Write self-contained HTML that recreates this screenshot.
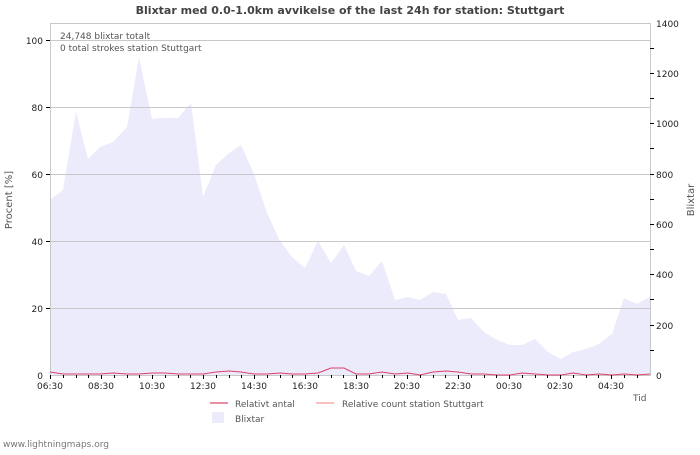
<!DOCTYPE html>
<html><head><meta charset="utf-8"><style>
body{margin:0;background:#fff;}
svg text{font-family:"DejaVu Sans","Liberation Sans",sans-serif;}
</style></head><body>
<svg width="700" height="450" xmlns="http://www.w3.org/2000/svg">
<rect width="700" height="450" fill="#fff"/>
<text x="350" y="14" text-anchor="middle" font-size="11" font-weight="bold" fill="#444">Blixtar med 0.0-1.0km avvikelse of the last 24h for station: Stuttgart</text>
<polygon fill="#ebebfc" points="50,375 50,200 63,190 76,112 88,159 100,147 113,142 127,127 139,57 152,119 165,118 178,118 191,103 203,197 216,165 229,153 241,145 254,174 267,213 280,241 292,257 305,268 318,241 331,263 344,245 356,271 369,276 382,261 395,300 408,297 420,300 433,292 446,294 458,320 471,318 484,332 497,340 510,345 522,345 535,339 548,352 561,359 573,352 586,349 599,344 612,334 624,298 637,304 650,297 650,375"/>
<g stroke="#c8c8c8" stroke-width="1">
<line x1="50" y1="40.5" x2="650" y2="40.5"/><line x1="50" y1="107.5" x2="650" y2="107.5"/><line x1="50" y1="174.5" x2="650" y2="174.5"/><line x1="50" y1="241.5" x2="650" y2="241.5"/><line x1="50" y1="308.5" x2="650" y2="308.5"/>
<rect x="50.5" y="23.5" width="600" height="352" fill="none"/>
</g>
<polyline fill="none" stroke="#e0406a" stroke-width="1" points="50,372 63,374 76,374 88,374 100,374 113,373 127,374 139,374 152,373 165,373 178,374 191,374 203,374 216,372 229,371 241,372 254,374 267,374 280,373 292,374 305,374 318,373 331,368 344,368 356,374 369,374 382,372 395,374 408,373 420,375 433,372 446,371 458,372 471,374 484,374 497,375 510,375 522,373 535,374 548,375 561,375 573,373 586,375 599,374 612,375 624,374 637,375 650,374"/>
<g stroke="#000" stroke-width="1">
<line x1="50.5" y1="375" x2="50.5" y2="379"/><line x1="101.5" y1="375" x2="101.5" y2="379"/><line x1="152.5" y1="375" x2="152.5" y2="379"/><line x1="203.5" y1="375" x2="203.5" y2="379"/><line x1="254.5" y1="375" x2="254.5" y2="379"/><line x1="305.5" y1="375" x2="305.5" y2="379"/><line x1="356.5" y1="375" x2="356.5" y2="379"/><line x1="407.5" y1="375" x2="407.5" y2="379"/><line x1="458.5" y1="375" x2="458.5" y2="379"/><line x1="509.5" y1="375" x2="509.5" y2="379"/><line x1="560.5" y1="375" x2="560.5" y2="379"/><line x1="611.5" y1="375" x2="611.5" y2="379"/>
<line x1="46" y1="40.5" x2="50" y2="40.5"/><line x1="46" y1="107.5" x2="50" y2="107.5"/><line x1="46" y1="174.5" x2="50" y2="174.5"/><line x1="46" y1="241.5" x2="50" y2="241.5"/><line x1="46" y1="308.5" x2="50" y2="308.5"/>
<line x1="650" y1="48.5" x2="654" y2="48.5"/><line x1="650" y1="73.5" x2="654" y2="73.5"/><line x1="650" y1="98.5" x2="654" y2="98.5"/><line x1="650" y1="123.5" x2="654" y2="123.5"/><line x1="650" y1="148.5" x2="654" y2="148.5"/><line x1="650" y1="174.5" x2="654" y2="174.5"/><line x1="650" y1="199.5" x2="654" y2="199.5"/><line x1="650" y1="224.5" x2="654" y2="224.5"/><line x1="650" y1="249.5" x2="654" y2="249.5"/><line x1="650" y1="274.5" x2="654" y2="274.5"/><line x1="650" y1="299.5" x2="654" y2="299.5"/><line x1="650" y1="325.5" x2="654" y2="325.5"/><line x1="650" y1="350.5" x2="654" y2="350.5"/>
</g>
<g stroke="#000" stroke-width="1">
<line x1="63.5" y1="375" x2="63.5" y2="378"/><line x1="76.5" y1="375" x2="76.5" y2="378"/><line x1="88.5" y1="375" x2="88.5" y2="378"/><line x1="114.5" y1="375" x2="114.5" y2="378"/><line x1="127.5" y1="375" x2="127.5" y2="378"/><line x1="139.5" y1="375" x2="139.5" y2="378"/><line x1="165.5" y1="375" x2="165.5" y2="378"/><line x1="178.5" y1="375" x2="178.5" y2="378"/><line x1="190.5" y1="375" x2="190.5" y2="378"/><line x1="216.5" y1="375" x2="216.5" y2="378"/><line x1="229.5" y1="375" x2="229.5" y2="378"/><line x1="241.5" y1="375" x2="241.5" y2="378"/><line x1="267.5" y1="375" x2="267.5" y2="378"/><line x1="280.5" y1="375" x2="280.5" y2="378"/><line x1="292.5" y1="375" x2="292.5" y2="378"/><line x1="318.5" y1="375" x2="318.5" y2="378"/><line x1="331.5" y1="375" x2="331.5" y2="378"/><line x1="343.5" y1="375" x2="343.5" y2="378"/><line x1="369.5" y1="375" x2="369.5" y2="378"/><line x1="382.5" y1="375" x2="382.5" y2="378"/><line x1="394.5" y1="375" x2="394.5" y2="378"/><line x1="420.5" y1="375" x2="420.5" y2="378"/><line x1="433.5" y1="375" x2="433.5" y2="378"/><line x1="445.5" y1="375" x2="445.5" y2="378"/><line x1="471.5" y1="375" x2="471.5" y2="378"/><line x1="484.5" y1="375" x2="484.5" y2="378"/><line x1="496.5" y1="375" x2="496.5" y2="378"/><line x1="522.5" y1="375" x2="522.5" y2="378"/><line x1="535.5" y1="375" x2="535.5" y2="378"/><line x1="547.5" y1="375" x2="547.5" y2="378"/><line x1="573.5" y1="375" x2="573.5" y2="378"/><line x1="586.5" y1="375" x2="586.5" y2="378"/><line x1="598.5" y1="375" x2="598.5" y2="378"/><line x1="624.5" y1="375" x2="624.5" y2="378"/><line x1="637.5" y1="375" x2="637.5" y2="378"/>
</g>
<g font-size="9" fill="#222">
<text x="43" y="379" text-anchor="end">0</text><text x="43" y="312" text-anchor="end">20</text><text x="43" y="245" text-anchor="end">40</text><text x="43" y="178" text-anchor="end">60</text><text x="43" y="111" text-anchor="end">80</text><text x="43" y="44" text-anchor="end">100</text>
<text x="656" y="379">0</text><text x="656" y="329">200</text><text x="656" y="278">400</text><text x="656" y="228">600</text><text x="656" y="178">800</text><text x="656" y="127">1000</text><text x="656" y="77">1200</text><text x="656" y="27">1400</text>
<text x="50" y="389" text-anchor="middle">06:30</text><text x="101" y="389" text-anchor="middle">08:30</text><text x="152" y="389" text-anchor="middle">10:30</text><text x="203" y="389" text-anchor="middle">12:30</text><text x="254" y="389" text-anchor="middle">14:30</text><text x="305" y="389" text-anchor="middle">16:30</text><text x="356" y="389" text-anchor="middle">18:30</text><text x="407" y="389" text-anchor="middle">20:30</text><text x="458" y="389" text-anchor="middle">22:30</text><text x="509" y="389" text-anchor="middle">00:30</text><text x="560" y="389" text-anchor="middle">02:30</text><text x="611" y="389" text-anchor="middle">04:30</text>
</g>
<g font-size="9" fill="#555">
<text x="60" y="39">24,748 blixtar totalt</text>
<text x="60" y="51">0 total strokes station Stuttgart</text>
<text x="633" y="401">Tid</text>
<text transform="translate(12,200) rotate(-90)" text-anchor="middle" font-size="10">Procent   [%]</text>
<text transform="translate(694,200) rotate(-90)" text-anchor="middle" font-size="10">Blixtar</text>
<text x="235" y="407">Relativt antal</text>
<text x="342" y="407">Relative count station Stuttgart</text>
<text x="235" y="422">Blixtar</text>
<text x="3" y="447" font-size="9" fill="#777">www.lightningmaps.org</text>
</g>
<line x1="210" y1="403" x2="228" y2="403" stroke="#d02040" stroke-width="1"/>
<line x1="316" y1="403" x2="334" y2="403" stroke="#f08080" stroke-width="1"/>
<rect x="212" y="412" width="12" height="11" fill="#ebebfc"/>
</svg>
</body></html>
